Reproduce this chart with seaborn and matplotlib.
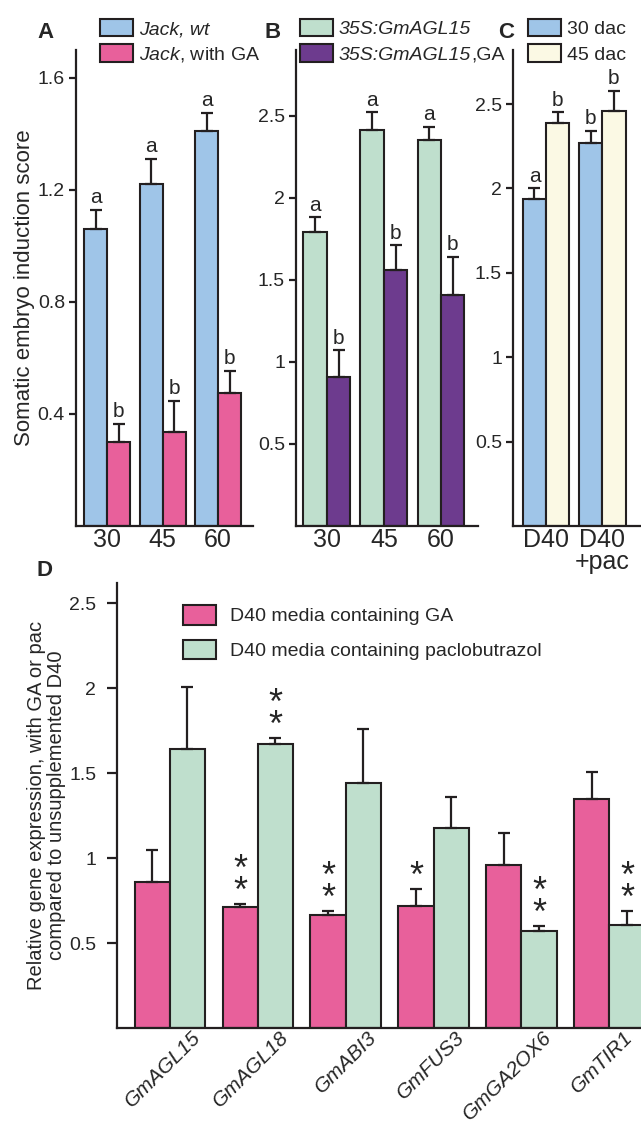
import numpy as np
import pandas as pd
import matplotlib
matplotlib.use("Agg")
import matplotlib.pyplot as plt
import seaborn as sns
from matplotlib.patches import Patch
from matplotlib.transforms import ScaledTranslation

sns.set_style("ticks")
plt.rcParams['font.family'] = ['Liberation Sans', 'DejaVu Sans']
plt.rcParams['mathtext.fontset'] = 'custom'
plt.rcParams['mathtext.it'] = 'Liberation Sans:italic'
plt.rcParams['mathtext.rm'] = 'Liberation Sans'

# ---------------- data ----------------
A_days = ["30", "45", "60"]
A_wt = [1.06, 1.22, 1.41]
A_wt_err = [0.07, 0.09, 0.065]
A_ga = [0.30, 0.336, 0.475]
A_ga_err = [0.064, 0.11, 0.08]
A_wt_letters = ["a", "a", "a"]
A_ga_letters = ["b", "b", "b"]

B_days = ["30", "45", "60"]
B_agl = [1.79, 2.41, 2.35]
B_agl_err = [0.09, 0.11, 0.08]
B_ga = [0.91, 1.56, 1.41]
B_ga_err = [0.16, 0.15, 0.23]
B_agl_letters = ["a", "a", "a"]
B_ga_letters = ["b", "b", "b"]

C_media = ["D40", "D40\n+pac"]
C_30 = [1.94, 2.27]
C_30_err = [0.06, 0.07]
C_45 = [2.39, 2.46]
C_45_err = [0.06, 0.12]
C_30_letters = ["a", "b"]
C_45_letters = ["b", "b"]

D_genes = ["GmAGL15", "GmAGL18", "GmABI3", "GmFUS3", "GmGA2OX6", "GmTIR1"]
D_ga = [0.86, 0.71, 0.665, 0.72, 0.96, 1.35]
D_ga_err = [0.19, 0.02, 0.025, 0.10, 0.19, 0.16]
D_pac = [1.64, 1.675, 1.44, 1.18, 0.57, 0.605]
D_pac_err = [0.37, 0.035, 0.32, 0.18, 0.03, 0.085]
D_ga_stars = ["", "**", "**", "*", "", ""]
D_pac_stars = ["", "**", "", "", "**", "**"]

BLUE = "#9fc5e8"
PINK = "#e8609b"
MINT = "#bfdfcd"
PURPLE = "#6d3b8e"
CREAM = "#fbf9e4"
EDGE = "#231f20"

W, H = 641, 1131
fig = plt.figure(figsize=(W / 100, H / 100), dpi=100)


def ax_px(x0, x1, ytop, ybot):
    return fig.add_axes([x0 / W, 1 - ybot / H, (x1 - x0) / W, (ybot - ytop) / H])


def panel(ax, cats, s1, e1, s2, e2, names, colors, width):
    df = pd.DataFrame({
        "cat": list(cats) * 2,
        "val": list(s1) + list(s2),
        "grp": [names[0]] * len(cats) + [names[1]] * len(cats),
    })
    sns.barplot(data=df, x="cat", y="val", hue="grp",
                palette={names[0]: colors[0], names[1]: colors[1]},
                width=width, edgecolor=EDGE, linewidth=1.5, errorbar=None,
                legend=False, saturation=1, ax=ax)
    out = []
    for cont, errs, vals in zip(ax.containers, [e1, e2], [s1, s2]):
        xs = [p.get_x() + p.get_width() / 2 for p in cont.patches]
        ax.errorbar(xs, vals, yerr=[np.zeros(len(errs)), errs], fmt='none',
                    ecolor=EDGE, elinewidth=1.6, capsize=4.5, capthick=1.6, zorder=3)
        out.append((xs, [v + e for v, e in zip(vals, errs)]))
    ax.set_xlabel("")
    ax.set_ylabel("")
    for s in ["top", "right"]:
        ax.spines[s].set_visible(False)
    for s in ["left", "bottom"]:
        ax.spines[s].set_linewidth(1.6)
        ax.spines[s].set_color(EDGE)
    ax.tick_params(axis='y', length=5, width=1.6, color=EDGE, labelsize=14, pad=3)
    ax.tick_params(axis='x', length=0, labelsize=18, pad=1.5)
    return out


def letters(ax, pos, labs):
    xs, tops = pos
    for x, t, l in zip(xs, tops, labs):
        ax.annotate(l, (x, t), xytext=(0, 2), textcoords='offset points',
                    ha='center', va='bottom', fontsize=15)


def legend(ax, handles, labels, anchor, spacing, textpad, hl, hh, fs=14):
    leg = ax.legend(handles, labels, loc='upper left', bbox_to_anchor=anchor,
                    frameon=False, borderpad=0, borderaxespad=0,
                    labelspacing=spacing, handletextpad=textpad,
                    handlelength=hl, handleheight=hh, fontsize=fs)
    return leg


# ---------------- Panel A ----------------
axA = ax_px(76, 253, 50, 526)
pa = panel(axA, A_days, A_wt, A_wt_err, A_ga, A_ga_err, ["wt", "ga"], [BLUE, PINK], 0.83)
axA.set_xlim(-0.56, 2.63)
axA.set_ylim(0, 1.7)
axA.set_yticks([0.4, 0.8, 1.2, 1.6])
axA.set_yticklabels(["0.4", "0.8", "1.2", "1.6"])
axA.set_ylabel("Somatic embryo induction score", fontsize=16, labelpad=2)
letters(axA, pa[0], A_wt_letters)
letters(axA, pa[1], A_ga_letters)
legA = legend(axA, [Patch(facecolor=BLUE, edgecolor=EDGE, lw=1.5),
                    Patch(facecolor=PINK, edgecolor=EDGE, lw=1.5)],
              ["Jack, wt", r"$\mathit{Jack}$, with GA"], (0.136, 1.065), 0.3, 0.3, 1.7, 1.0)
legA.get_texts()[0].set_fontstyle('italic')

# ---------------- Panel B ----------------
axB = ax_px(296, 478, 50, 526)
pb = panel(axB, B_days, B_agl, B_agl_err, B_ga, B_ga_err, ["agl", "ga"], [MINT, PURPLE], 0.82)
axB.set_xlim(-0.54, 2.65)
axB.set_ylim(0, 2.9)
axB.set_yticks([0.5, 1, 1.5, 2, 2.5])
axB.set_yticklabels(["0.5", "1", "1.5", "2", "2.5"])
letters(axB, pb[0], B_agl_letters)
letters(axB, pb[1], B_ga_letters)
legB = legend(axB, [Patch(facecolor=MINT, edgecolor=EDGE, lw=1.5),
                    Patch(facecolor=PURPLE, edgecolor=EDGE, lw=1.5)],
              ["35S:GmAGL15", "35S:GmAGL15"], (0.022, 1.065), 0.3, 0.3, 1.7, 1.0)
for t in legB.get_texts():
    t.set_fontstyle('italic')
axB.annotate(",GA", xy=(1, 0), xycoords=legB.get_texts()[1], ha='left', va='bottom',
             fontsize=14, zorder=10, annotation_clip=False)

# ---------------- Panel C ----------------
axC = ax_px(513, 641, 50, 526)
pc = panel(axC, C_media, C_30, C_30_err, C_45, C_45_err, ["30", "45"], [BLUE, CREAM], 0.83)
axC.set_xlim(-0.59, 1.69)
axC.set_ylim(0, 2.82)
axC.set_yticks([0.5, 1, 1.5, 2, 2.5])
axC.set_yticklabels(["0.5", "1", "1.5", "2", "2.5"])
letters(axC, pc[0], C_30_letters)
letters(axC, pc[1], C_45_letters)
legend(axC, [Patch(facecolor=BLUE, edgecolor=EDGE, lw=1.5),
             Patch(facecolor=CREAM, edgecolor=EDGE, lw=1.5)],
       ["30 dac", "45 dac"], (0.117, 1.065), 0.3, 0.3, 1.7, 1.0)
for t in axC.get_xticklabels():
    t.set_linespacing(0.9)

# ---------------- Panel D ----------------
axD = ax_px(117, 641, 583, 1028)
pd_ = panel(axD, D_genes, D_ga, D_ga_err, D_pac, D_pac_err, ["ga", "pac"], [PINK, MINT], 0.8)
axD.set_xlim(-0.6, 5.36)
axD.set_ylim(0, 2.62)
axD.set_yticks([0.5, 1, 1.5, 2, 2.5])
axD.set_yticklabels(["0.5", "1", "1.5", "2", "2.5"])
axD.tick_params(axis='y', length=7, pad=8)
axD.set_ylabel("Relative gene expression, with GA or pac\ncompared to unsupplemented D40",
               fontsize=14.5, labelpad=2, linespacing=1.1)
xlabs = axD.get_xticklabels()
for i, t in enumerate(xlabs):
    t.set_rotation(45)
    t.set_ha('right')
    t.set_va('center')
    t.set_rotation_mode('anchor')
    t.set_fontstyle('italic')
    t.set_fontsize(15)
    dx = 20 if i < len(xlabs) - 1 else 15
    t.set_transform(t.get_transform() + ScaledTranslation(dx / 72, -3 / 72, fig.dpi_scale_trans))

for (xs, tops), stars in zip(pd_, [D_ga_stars, D_pac_stars]):
    for x, t, s in zip(xs, tops, stars):
        if s:
            axD.annotate("\n".join(s), (x, t), xytext=(0, -4.5), textcoords='offset points',
                         ha='center', va='bottom', fontsize=26, linespacing=0.52)

legend(axD, [Patch(facecolor=PINK, edgecolor=EDGE, lw=1.5),
             Patch(facecolor=MINT, edgecolor=EDGE, lw=1.5)],
       ["D40 media containing GA", "D40 media containing paclobutrazol"],
       (0.126, 0.95), 0.75, 0.7, 1.7, 1.15)

# panel labels
for lab, x, y in [("A", 45, 32), ("B", 273, 32), ("C", 506, 32), ("D", 45, 570)]:
    fig.text(x / W, 1 - y / H, lab, ha='center', va='center', fontsize=16, fontweight='bold')

fig.canvas.draw()
fig.savefig("out.png", dpi=100)
